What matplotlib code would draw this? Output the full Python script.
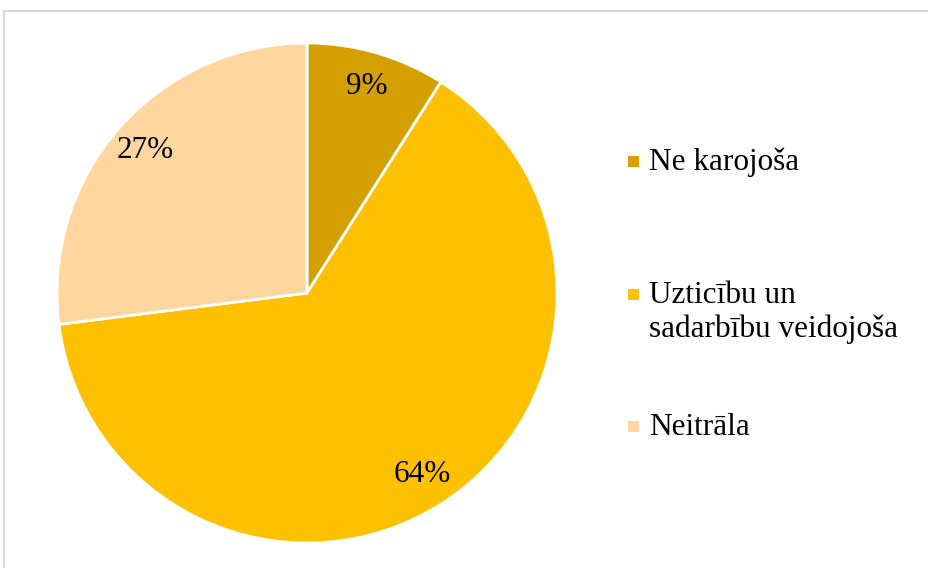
import matplotlib.pyplot as plt
from matplotlib.lines import Line2D
from matplotlib.patches import Rectangle

# dati
labels = ["Ne karojoša", "Uzticību un\nsadarbību veidojoša", "Neitrāla"]
values = [9, 64, 27]
colors = ["#D4A000", "#FFC000", "#FFD79E"]

plt.rcParams["font.family"] = ["Liberation Serif", "DejaVu Serif"]

W, H = 929, 568
fig = plt.figure(figsize=(W / 100, H / 100), dpi=100)

# pīrāga diagramma (centrs ~ (307, 293), rādiuss ~ 250 px)
cx, cy, r = 307, 293, 250
ax = fig.add_axes([(cx - r) / W, 1 - (cy + r) / H, 2 * r / W, 2 * r / H])
wedges, texts, autotexts = ax.pie(
    values,
    colors=colors,
    startangle=90,
    counterclock=False,
    autopct=lambda p: f"{p:.0f}%",
    pctdistance=0.86,
    wedgeprops=dict(edgecolor="white", linewidth=2),
    textprops=dict(fontsize=22.5, color="black"),
)
ax.set_xlim(-1, 1)
ax.set_ylim(-1, 1)
ax.set_aspect("auto")
ax.axis("off")

# leģenda (manuāli novietota)
legend_y = [161, 294, 426]  # kvadrātu centri, px no augšas
for lab, col, y in zip(labels, colors, legend_y):
    s = 11
    fig.patches.append(
        Rectangle((628 / W, 1 - (y + s / 2) / H), s / W, s / H,
                  transform=fig.transFigure, facecolor=col, edgecolor="none")
    )
    for i, line in enumerate(lab.split("\n")):
        fig.text(649 / W, 1 - (y + 9 + 34 * i) / H, line, fontsize=22.5,
                 va="baseline", ha="left")

# rāmis (redzama tikai augšējā un kreisā mala)
fig.add_artist(Line2D([4 / W, 1], [1 - 11 / H, 1 - 11 / H],
                      transform=fig.transFigure, color="#D9D9D9", linewidth=1.5))
fig.add_artist(Line2D([4 / W, 4 / W], [1 - 11 / H, 0],
                      transform=fig.transFigure, color="#D9D9D9", linewidth=1.5))

fig.savefig("out.png", dpi=100)
